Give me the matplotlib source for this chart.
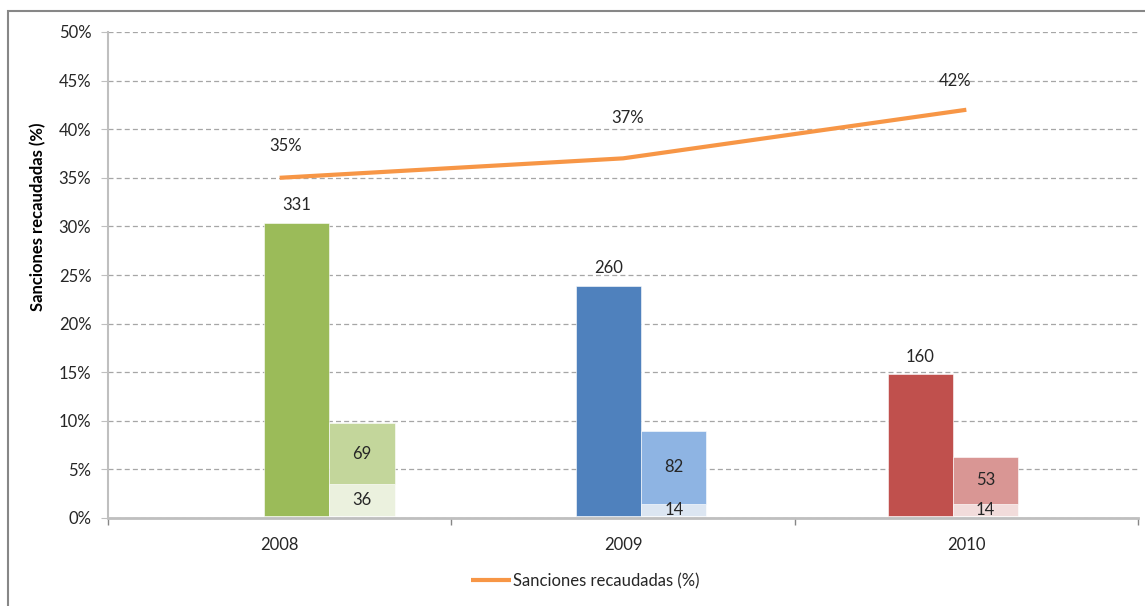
import matplotlib
matplotlib.use("Agg")
import matplotlib.pyplot as plt
from matplotlib.patches import Rectangle
from matplotlib.ticker import FuncFormatter, MultipleLocator

# datos por año
years = ['2008', '2009', '2010']
pct_recaudado = [35, 37, 42]        # linea, eje principal (%)
total_sanciones = [331, 260, 160]   # barra grande, eje secundario oculto
seg_inferior = [36, 14, 14]         # parte baja de la barra apilada
seg_superior = [69, 82, 53]         # parte alta de la barra apilada
line_label = 'Sanciones recaudadas (%)'

col_big = ['#9BBB59', '#4F81BD', '#C0504D']
col_top = ['#C3D69B', '#8EB4E3', '#D99694']
col_low = ['#EBF1DE', '#DCE6F2', '#F2DCDB']
txt = '#262626'
axis_gray = '#BFBFBF'

plt.rcParams['font.family'] = ['Lato', 'DejaVu Sans']
plt.rcParams['font.size'] = 12

fig = plt.figure(figsize=(11.45, 6.06), dpi=100)
ax = fig.add_axes([108 / 1145, 1 - 518 / 606, 1030 / 1145, 486 / 606])
ax2 = ax.twinx()

# eje principal: porcentaje
ax.set_xlim(-0.5, 2.5)
ax.set_ylim(0, 50)
ax.yaxis.set_major_locator(MultipleLocator(5))
ax.yaxis.set_major_formatter(FuncFormatter(lambda v, p: '%d%%' % v))
ax.grid(axis='y', color='#A6A6A6', linestyle=(0, (4, 2.5)), linewidth=0.9)
ax.set_axisbelow(True)
for s in ['top', 'right']:
    ax.spines[s].set_visible(False)
ax.spines['left'].set_color(axis_gray)
ax.spines['left'].set_linewidth(1.5)
ax.spines['bottom'].set_color(axis_gray)
ax.spines['bottom'].set_linewidth(2)
ax.tick_params(axis='y', length=5, color=axis_gray, pad=7, labelcolor=txt)
ax.set_xticks([-0.5, 0.5, 1.5, 2.5])
ax.set_xticklabels([])
ax.set_xticks([0, 1, 2], minor=True)
ax.set_xticklabels(years, minor=True)
ax.tick_params(axis='x', which='major', length=5, color='#868686', width=1)
ax.tick_params(axis='x', which='minor', length=0, pad=14, labelcolor=txt)
ax.set_ylabel('Sanciones recaudadas (%)', fontweight='bold', color='black')
ax.yaxis.set_label_coords(-0.06, 0.62)

x = list(range(len(years)))
ax.plot(x, pct_recaudado, color='#F79646', linewidth=3, solid_capstyle='butt',
        label=line_label, zorder=5)
label_off = [(4, 23), (3, 29), (-8, 21)]
for i, v in enumerate(pct_recaudado):
    ax.annotate('%d%%' % v, (i, v), xytext=label_off[i], textcoords='offset points',
                ha='center', va='center', color=txt)

# eje secundario: numero de sanciones (sin marcas)
ax2.set_ylim(-2.3, 547)
ax2.axis('off')
bar_w = 0.19
for i in range(len(years)):
    x0 = i - 0.045 - 0.092 * i
    ax2.bar(x0, total_sanciones[i], width=bar_w, align='edge', color=col_big[i],
            edgecolor='white', linewidth=0.4)
    ax2.text(x0 + bar_w / 2, total_sanciones[i] + 20, str(total_sanciones[i]),
             ha='center', va='center', color=txt)
    x1 = x0 + bar_w
    ax2.bar(x1, seg_inferior[i], width=bar_w, align='edge', color=col_low[i],
            edgecolor='white', linewidth=0.4)
    ax2.bar(x1, seg_superior[i], bottom=seg_inferior[i], width=bar_w, align='edge',
            color=col_top[i], edgecolor='white', linewidth=0.4)
    ax2.text(x1 + bar_w / 2, seg_inferior[i] / 2, str(seg_inferior[i]),
             ha='center', va='center', color=txt)
    ax2.text(x1 + bar_w / 2, seg_inferior[i] + seg_superior[i] / 2, str(seg_superior[i]),
             ha='center', va='center', color=txt)

leg = fig.legend(loc='center', bbox_to_anchor=(585 / 1145, 1 - 581 / 606), frameon=False,
                 handlelength=2.4, handletextpad=0.15, fontsize=12)
for t in leg.get_texts():
    t.set_color(txt)

# marco exterior del grafico
fig.patches.append(Rectangle((8 / 1145, -0.05), 1.1, 1 - 11 / 606 + 0.05,
                             transform=fig.transFigure, fill=False,
                             edgecolor='#878787', linewidth=1.5))

fig.savefig('out.png', dpi=100)
